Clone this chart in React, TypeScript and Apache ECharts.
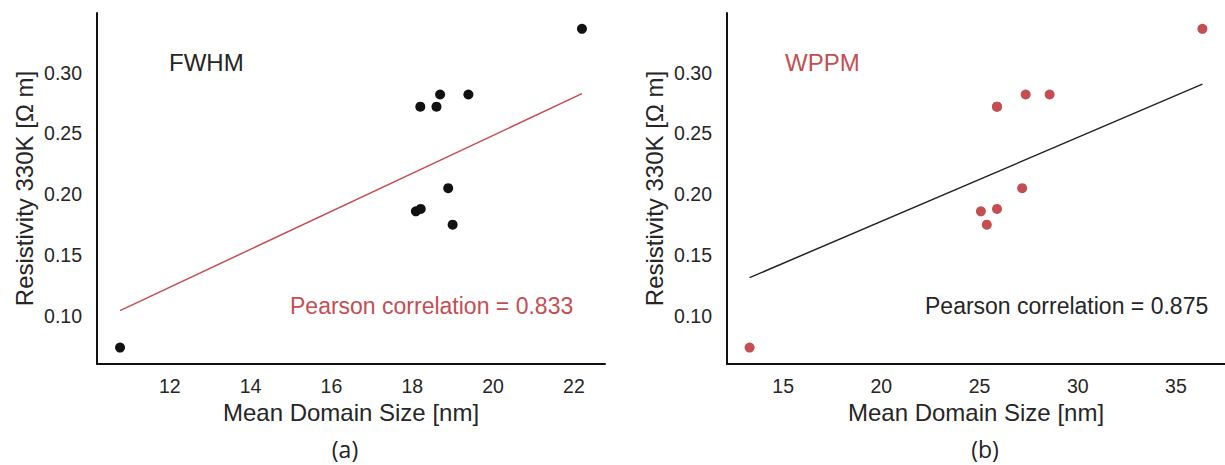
import React, { useEffect, useRef } from "react";
import * as echarts from "echarts";

// ---- data ----
const fwhmSize = [10.77, 22.2, 18.2, 18.6, 18.69, 19.39, 18.89, 18.09, 18.21, 19.0];
const fwhmRes = [0.074, 0.336, 0.272, 0.272, 0.282, 0.282, 0.205, 0.186, 0.188, 0.175];
const wppmSize = [13.29, 36.35, 27.35, 28.57, 25.89, 25.89, 27.17, 25.07, 25.89, 25.37];
const wppmRes = [0.074, 0.336, 0.282, 0.282, 0.272, 0.272, 0.205, 0.186, 0.188, 0.175];
const fwhmFitX = [10.77, 22.2];
const fwhmFitY = [0.1044, 0.2827];
const wppmFitX = [13.29, 36.35];
const wppmFitY = [0.1315, 0.2905];
const fwhmTicks = [12, 14, 16, 18, 20, 22];
const wppmTicks = [15, 20, 25, 30, 35];
const resTicks = [0.1, 0.15, 0.2, 0.25, 0.3];
const fwhmCorr = "0.833";
const wppmCorr = "0.875";

const RED = "#c44e52";
const INK = "#262626";
const FONT = "'Liberation Sans', Arial, sans-serif";

export default function App() {
  const ref = useRef<HTMLDivElement>(null);
  useEffect(() => {
    if (!ref.current) return;
    const chart = echarts.init(ref.current, undefined, { renderer: "svg" });
    const xAxisBase = (min: number, max: number, ticks: number[], idx: number) => ({
      type: "value",
      gridIndex: idx,
      min,
      max,
      name: "Mean Domain Size [nm]",
      nameLocation: "middle",
      nameGap: 27,
      nameTextStyle: { fontSize: 24, color: INK, fontFamily: FONT },
      axisLine: { show: true, onZero: false, lineStyle: { color: "#111", width: 2 } },
      axisTick: { show: false },
      splitLine: { show: false },
      axisLabel: {
        customValues: ticks,
        fontSize: 19.5,
        color: INK,
        fontFamily: FONT,
        margin: 12,
        formatter: (v: number) => String(v),
      },
    });
    const yAxisBase = (idx: number) => ({
      type: "value",
      gridIndex: idx,
      min: 0.0605,
      max: 0.349,
      name: "Resistivity 330K [Ω m]",
      nameLocation: "middle",
      nameGap: 61,
      nameTextStyle: { fontSize: 24, color: INK, fontFamily: FONT },
      axisLine: { show: true, onZero: false, lineStyle: { color: "#111", width: 2 } },
      axisTick: { show: false },
      splitLine: { show: false },
      axisLabel: {
        customValues: resTicks,
        fontSize: 19.5,
        color: INK,
        fontFamily: FONT,
        margin: 15,
        formatter: (v: number) => v.toFixed(2),
      },
    });
    const zip = (a: number[], b: number[]) => a.map((v, i) => [v, b[i]]);
    chart.setOption({
      animation: false,
      backgroundColor: "#ffffff",
      grid: [
        { left: 97, top: 13, width: 508, height: 351 },
        { left: 727, top: 13, width: 508, height: 351 },
      ],
      xAxis: [xAxisBase(10.2, 22.77, fwhmTicks, 0), xAxisBase(12.14, 37.5, wppmTicks, 1)],
      yAxis: [yAxisBase(0), yAxisBase(1)],
      series: [
        {
          type: "line",
          xAxisIndex: 0,
          yAxisIndex: 0,
          data: zip(fwhmFitX, fwhmFitY),
          symbol: "none",
          lineStyle: { color: RED, width: 1.5 },
          z: 2,
        },
        {
          type: "scatter",
          xAxisIndex: 0,
          yAxisIndex: 0,
          data: zip(fwhmSize, fwhmRes),
          symbolSize: 10,
          itemStyle: { color: "#111111", opacity: 1 },
          z: 3,
        },
        {
          type: "line",
          xAxisIndex: 1,
          yAxisIndex: 1,
          data: zip(wppmFitX, wppmFitY),
          symbol: "none",
          lineStyle: { color: "#222222", width: 1.5 },
          z: 2,
        },
        {
          type: "scatter",
          xAxisIndex: 1,
          yAxisIndex: 1,
          data: zip(wppmSize, wppmRes),
          symbolSize: 10,
          itemStyle: { color: RED, opacity: 1 },
          z: 3,
        },
      ],
      graphic: [
        {
          type: "text",
          left: 169,
          top: 50,
          style: { text: "FWHM", fontSize: 24, fill: INK, fontFamily: FONT },
        },
        {
          type: "text",
          left: 290,
          top: 294,
          style: { text: "Pearson correlation = " + fwhmCorr, fontSize: 23, fill: RED, fontFamily: FONT },
        },
        {
          type: "text",
          left: 785,
          top: 50,
          style: { text: "WPPM", fontSize: 24, fill: RED, fontFamily: FONT },
        },
        {
          type: "text",
          left: 925,
          top: 294,
          style: { text: "Pearson correlation = " + wppmCorr, fontSize: 23, fill: INK, fontFamily: FONT },
        },
        {
          type: "text",
          x: 345,
          y: 449,
          style: {
            text: "(a)",
            fontSize: 23,
            lineHeight: 24,
            fill: "#222",
            fontFamily: "'Open Sans', sans-serif",
            align: "center",
            verticalAlign: "middle",
          },
        },
        {
          type: "text",
          x: 985,
          y: 449,
          style: {
            text: "(b)",
            fontSize: 23,
            lineHeight: 24,
            fill: "#222",
            fontFamily: "'Open Sans', sans-serif",
            align: "center",
            verticalAlign: "middle",
          },
        },
      ],
    });
    return () => chart.dispose();
  }, []);
  return (
    <div
      ref={ref}
      style={{ position: "absolute", left: 0, top: 0, width: 1225, height: 465, background: "#fff" }}
    />
  );
}
